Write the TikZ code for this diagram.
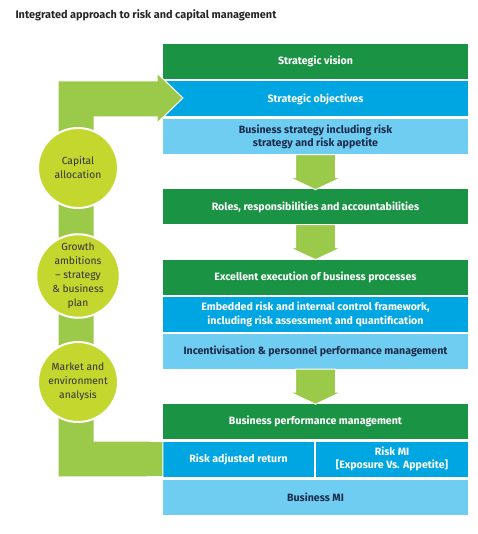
\documentclass[tikz,border=0pt]{standalone}
\usepackage{fontspec}
\setmainfont{Fira Sans}
\usetikzlibrary{calc,positioning}

\definecolor{rowgreen}{HTML}{1B9345}
\definecolor{rowblue}{HTML}{00A6E2}
\definecolor{rowlight}{HTML}{6FCDF2}
\definecolor{flowgreen}{HTML}{9BC94A}
\definecolor{stagelime}{HTML}{C3D72E}
\definecolor{navytext}{HTML}{1C2B4B}

\tikzset{
  row/.style={minimum width=305pt, minimum height=35pt, inner sep=0pt, align=center,
    font=\fontsize{10.6}{13.6}\selectfont\bfseries},
  darkrow/.style={row, fill=rowgreen, text=white},
  bluerow/.style={row, fill=rowblue, text=white},
  lightrow/.style={row, fill=rowlight, text=navytext},
  stage/.style={circle, fill=stagelime, draw=white, line width=2pt, minimum size=80pt,
    inner sep=0pt, align=center, text=black!80, font=\fontsize{10.3}{14}\selectfont},
  flowarrow/.style={fill=flowgreen, draw=white, line width=1pt}
}

% fat green arrow hanging below a row
\newcommand{\flowdown}[1]{%
  \filldraw[flowarrow] ($(#1.south)+(-20,0)$) -- ($(#1.south)+(20,0)$)
    -- ($(#1.south)+(20,23)$) -- ($(#1.south)+(25.5,23)$) -- ($(#1.south)+(0,35)$)
    -- ($(#1.south)+(-25.5,23)$) -- ($(#1.south)+(-20,23)$) -- cycle;}

\begin{document}
\begin{tikzpicture}[x=1pt, y=-1pt]

\useasboundingbox (0,0) rectangle (477,534);

\node[anchor=west, font=\fontsize{10.9}{12}\selectfont\bfseries, text=black!85] (title) at (12,15)
  {Integrated approach to risk and capital management};

\node[darkrow] (vision) at (315.5,61.5) {Strategic vision};
\node[bluerow] (objectives) at (315.5,99) {Strategic objectives};
\node[lightrow] (bizstrat) at (315.5,137) {Business strategy including risk\\strategy and risk appetite};

\node[darkrow] (roles) at (315.5,207) {Roles, responsibilities and accountabilities};

\node[darkrow] (execution) at (315.5,277) {Excellent execution of business processes};
\node[bluerow] (framework) at (315.5,314.5) {Embedded risk and internal control framework,\\including risk assessment and quantification};
\node[lightrow] (incentive) at (315.5,351.5) {Incentivisation \& personnel performance management};

\node[darkrow] (bizperf) at (315.5,421.5) {Business performance management};
\node[bluerow, minimum width=151pt] (riskret) at (238.5,459) {Risk adjusted return};
\node[bluerow, minimum width=152pt] (riskmi) at (392,459) {Risk MI\\{[Exposure Vs. Appetite]}};
\node[lightrow] (bizmi) at (315.5,497) {Business MI};

\flowdown{bizstrat}
\flowdown{roles}
\flowdown{incentive}

% feedback loop back up to the objectives
\filldraw[flowarrow] (58,477) -- (58,81) -- (157,81) -- (157,73) -- (183,98)
  -- (157,123) -- (157,117) -- (94,117) -- (94,441) -- (riskret.north west)
  -- (riskret.south west) -- cycle;

\node[stage] (capital) at (78,168) {Capital\\allocation};
\node[stage, minimum size=82pt] (growth) at (78,276) {Growth\\ambitions\\-- strategy\\\& business\\plan};
\node[stage] (market) at (78,382) {Market and\\environment\\analysis};

\end{tikzpicture}
\end{document}
